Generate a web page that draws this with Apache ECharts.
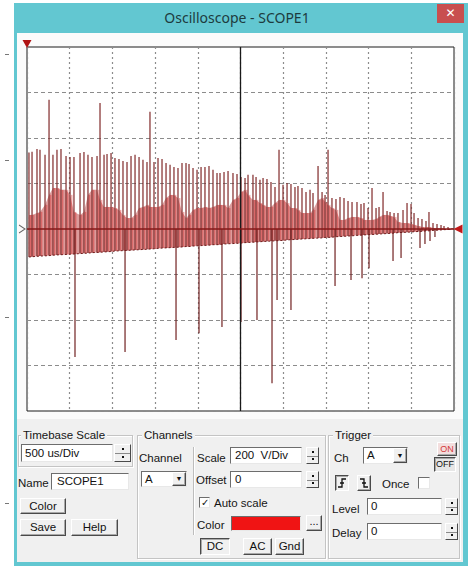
<!DOCTYPE html>
<html><head><meta charset="utf-8">
<script src="https://cdn.jsdelivr.net/npm/echarts@6/dist/echarts.min.js"></script>
<style>
html,body{margin:0;padding:0;width:468px;height:566px;overflow:hidden;background:#fff;font-family:"Liberation Sans",Arial,sans-serif;}
.a{position:absolute;box-sizing:border-box;}
#frame{left:14px;top:3px;width:454px;height:563px;background:#62c7d1;}
#title{left:14px;top:3px;width:446px;height:30px;line-height:30px;text-align:center;font-family:"Noto Sans",sans-serif;font-size:14px;color:#1d3b3e;}
#close{left:437px;top:4px;width:27px;height:19px;background:#c84f4f;color:#fff;font-size:12px;text-align:center;line-height:19px;font-weight:bold;font-family:"DejaVu Sans";}
#panel{left:17px;top:33px;width:446px;height:529px;background:#f0f0f0;}
#plotpanel{left:17px;top:33px;width:446px;height:386px;background:#fbfbfb;}
.lbl{position:absolute;font-size:11.5px;color:#151515;white-space:nowrap;line-height:14px;}
.grp{position:absolute;box-sizing:border-box;border:1px solid #c4c4c4;box-shadow:inset 1px 1px 0 #fff,1px 1px 0 #fff;}
.gl{position:absolute;font-size:11.5px;color:#151515;background:#f0f0f0;padding:0 2px;line-height:14px;white-space:nowrap;}
.ed{position:absolute;box-sizing:border-box;background:#fff;border-top:1px solid #6d6d6d;border-left:1px solid #6d6d6d;border-bottom:1px solid #e8e8e8;border-right:1px solid #e8e8e8;font-size:11.5px;color:#111;padding-left:3px;white-space:nowrap;}
.bt{position:absolute;box-sizing:border-box;background:#f0f0f0;border-top:1px solid #fff;border-left:1px solid #fff;border-right:1px solid #4a4a4a;border-bottom:1px solid #4a4a4a;box-shadow:inset -1px -1px 0 #a8a8a8;text-align:center;font-size:11.5px;color:#111;white-space:nowrap;}
.dn{border-top:1px solid #4a4a4a;border-left:1px solid #4a4a4a;border-right:1px solid #fff;border-bottom:1px solid #fff;box-shadow:inset 1px 1px 0 #a8a8a8;}
.sp{position:absolute;box-sizing:border-box;border-top:1px solid #fff;border-left:1px solid #fff;border-right:1px solid #4a4a4a;border-bottom:1px solid #4a4a4a;background:#f0f0f0;}
.sp::before{content:"";position:absolute;left:0;right:0;top:50%;border-top:1px solid #8a8a8a;}
.dot1,.dot2{position:absolute;left:50%;width:2px;height:2px;margin-left:-1px;background:#111;}
.dot1{top:25%;margin-top:-1px;}
.dot2{top:75%;margin-top:-1px;}
.cb{position:absolute;box-sizing:border-box;background:#fff;border-top:1px solid #6d6d6d;border-left:1px solid #6d6d6d;border-bottom:1px solid #e8e8e8;border-right:1px solid #e8e8e8;}
.tick{position:absolute;left:5px;width:4px;height:1px;background:#777;}
#chart{position:absolute;left:0;top:0;width:468px;height:566px;z-index:3;pointer-events:none;}
</style>
</head>
<body>
<div class="tick" style="top:54px"></div>
<div class="tick" style="top:160px"></div>
<div class="tick" style="top:317px"></div>
<div class="tick" style="top:503px"></div>
<div class="a" id="frame"></div>
<div class="a" id="title">Oscilloscope - SCOPE1</div>
<div class="a" id="close">✕</div>
<div class="a" id="panel"></div>
<div class="a" id="plotpanel"></div>

<!-- Timebase -->
<div class="grp" style="left:18px;top:435px;width:115px;height:32px;"></div>
<div class="gl" style="left:21px;top:428px;">Timebase Scale</div>
<div class="ed" style="left:21px;top:444px;width:92px;height:18px;line-height:16px;">500 us/Div</div>
<div class="sp" style="left:114px;top:444px;width:17px;height:18px;"><div class="dot1"></div><div class="dot2"></div></div>
<div class="lbl" style="left:18px;top:476px;">Name</div>
<div class="ed" style="left:51px;top:473px;width:78px;height:17px;line-height:15px;padding-left:5px;">SCOPE1</div>
<div class="bt" style="left:20px;top:498px;width:46px;height:16px;line-height:14px;">Color</div>
<div class="bt" style="left:20px;top:519px;width:46px;height:17px;line-height:15px;">Save</div>
<div class="bt" style="left:71px;top:519px;width:47px;height:17px;line-height:15px;">Help</div>

<!-- Channels -->
<div class="grp" style="left:137px;top:435px;width:189px;height:124px;"></div>
<div class="gl" style="left:142px;top:428px;">Channels</div>
<div class="lbl" style="left:139px;top:451px;">Channel</div>
<div class="ed" style="left:141px;top:471px;width:46px;height:16px;line-height:14px;">A</div>
<div class="bt" style="left:172px;top:472px;width:14px;height:14px;font-size:7px;line-height:12px;">▼</div>
<div class="a" style="left:193px;top:447px;width:2px;height:88px;border-left:1px solid #bdbdbd;border-right:1px solid #fff;"></div>
<div class="lbl" style="left:197px;top:451px;">Scale</div>
<div class="ed" style="left:230px;top:447px;width:72px;height:17px;line-height:15px;padding-left:4px;">200&nbsp; V/Div</div>
<div class="sp" style="left:306px;top:447px;width:13px;height:17px;"><div class="dot1"></div><div class="dot2"></div></div>
<div class="lbl" style="left:196px;top:473px;">Offset</div>
<div class="ed" style="left:230px;top:471px;width:72px;height:17px;line-height:15px;padding-left:4px;">0</div>
<div class="sp" style="left:306px;top:471px;width:13px;height:17px;"><div class="dot1"></div><div class="dot2"></div></div>
<div class="cb" style="left:199px;top:497px;width:11px;height:11px;font-size:10px;line-height:9px;text-align:center;color:#111;">✓</div>
<div class="lbl" style="left:214px;top:496px;">Auto scale</div>
<div class="lbl" style="left:197px;top:518px;">Color</div>
<div class="ed" style="left:231px;top:516px;width:70px;height:15px;background:#f01414;"></div>
<div class="bt" style="left:306px;top:515px;width:16px;height:16px;line-height:10px;font-size:11px;">...</div>
<div class="bt dn" style="left:200px;top:538px;width:30px;height:17px;line-height:15px;">DC</div>
<div class="bt" style="left:243px;top:538px;width:29px;height:17px;line-height:15px;">AC</div>
<div class="bt" style="left:275px;top:538px;width:29px;height:17px;line-height:15px;">Gnd</div>

<!-- Trigger -->
<div class="grp" style="left:328px;top:435px;width:132px;height:124px;"></div>
<div class="gl" style="left:333px;top:428px;">Trigger</div>
<div class="lbl" style="left:334px;top:451px;">Ch</div>
<div class="ed" style="left:363px;top:447px;width:45px;height:17px;line-height:15px;">A</div>
<div class="bt" style="left:393px;top:448px;width:14px;height:15px;font-size:7px;line-height:13px;">▼</div>
<div class="bt" style="left:437px;top:442px;width:20px;height:14px;line-height:12px;font-size:9px;color:#d33a3a;background:#f3dede;">ON</div>
<div class="bt dn" style="left:434px;top:457px;width:22px;height:15px;line-height:13px;font-size:9px;background:#e6e6e6;">OFF</div>
<div class="bt dn" style="left:335px;top:475px;width:14px;height:16px;"><svg width="12" height="14" style="position:absolute;left:0;top:0"><path d="M2,11 H6 V3 H10 M4,7 H8" stroke="#111" stroke-width="1.3" fill="none"/></svg></div>
<div class="bt" style="left:357px;top:475px;width:14px;height:16px;"><svg width="12" height="14" style="position:absolute;left:0;top:0"><path d="M2,3 H6 V11 H10 M4,7 H8" stroke="#111" stroke-width="1.3" fill="none"/></svg></div>
<div class="lbl" style="left:382px;top:477px;">Once</div>
<div class="cb" style="left:418px;top:477px;width:12px;height:12px;"></div>
<div class="lbl" style="left:332px;top:502px;">Level</div>
<div class="ed" style="left:367px;top:498px;width:75px;height:17px;line-height:15px;">0</div>
<div class="sp" style="left:445px;top:498px;width:13px;height:17px;"><div class="dot1"></div><div class="dot2"></div></div>
<div class="lbl" style="left:332px;top:526px;">Delay</div>
<div class="ed" style="left:367px;top:523px;width:75px;height:17px;line-height:15px;">0</div>
<div class="sp" style="left:445px;top:523px;width:13px;height:17px;"><div class="dot1"></div><div class="dot2"></div></div>

<div id="chart"></div>
<script>
// Time axis: 500 us/Div, 10 divisions; Voltage: 200 V/Div, 8 divisions
const timeTicks = [0,500,1000,1500,2000,2500,3000,3500,4000,4500,5000];
const voltTicks = [-800,-600,-400,-200,0,200,400,600,800];

// Pulse train (time in us, voltages in V)
const pulseTime = [23,59,117,152,211,258,304,351,398,457,
504,550,621,667,714,761,820,855,902,937,
984,1030,1077,1124,1171,1218,1265,1312,1358,1405,
1440,1487,1534,1581,1628,1675,1721,1768,1815,1862,
1897,1944,1991,2038,2084,2131,2178,2225,2260,2307,
2354,2412,2459,2506,2553,2588,2646,2682,2728,2764,
2810,2857,2904,2951,2998,3045,3091,3138,3173,3220,
3267,3314,3349,3408,3455,3490,3525,3571,3618,3665,
3712,3759,3806,3864,3911,3946,3993,4040,4087,4122,
4169,4216,4251,4298,4344,4403,4450,4497,4532,4579,
4625,4672,4707,4754,4801,4848,4883,4930,4977];
const pulseTop = [336,340,352,348,326,568,326,348,352,321,
317,317,334,339,326,317,321,554,326,330,
334,312,308,299,295,321,326,317,304,295,
515,295,312,308,290,282,273,268,290,290,
286,268,260,273,273,277,260,246,246,251,
255,246,242,229,224,238,238,229,216,224,
220,207,185,348,194,202,198,185,189,180,
163,172,158,277,163,150,348,136,132,141,
136,123,119,119,110,114,92,180,92,97,
163,79,75,70,70,84,114,110,70,48,
44,35,75,26,22,18,13,9,4];
const pulseMid = [62,62,70,75,106,150,180,180,172,172,
150,75,62,75,150,172,172,128,97,97,
97,92,84,62,48,48,62,92,97,106,
97,97,97,106,136,150,150,136,75,48,
62,84,92,92,97,92,97,106,106,106,
92,128,136,163,172,150,128,128,114,106,
97,97,114,128,128,114,92,92,84,70,
70,70,84,128,136,119,106,92,84,40,
40,48,53,53,48,40,40,40,44,53,
62,62,57,53,31,26,26,22,18,13,
9,9,9,4,4,4,0,0,0];
const pulseLow = [-123,-122,-120,-119,-118,-117,-115,-114,-113,-112,
-111,-110,-108,-107,-106,-104,-103,-102,-101,-100,
-99,-97,-96,-95,-94,-93,-92,-91,-90,-89,
-88,-87,-85,-84,-83,-82,-81,-80,-79,-77,
-77,-75,-74,-73,-72,-71,-69,-69,-68,-66,
-65,-64,-63,-62,-60,-59,-58,-57,-56,-55,
-54,-53,-52,-51,-50,-48,-47,-46,-45,-44,
-43,-42,-41,-40,-39,-37,-37,-36,-34,-33,
-32,-31,-30,-28,-27,-26,-25,-24,-23,-22,
-21,-20,-19,-18,-16,-15,-14,-13,-12,-11,
-10,-8,-8,-6,-5,-4,-3,-2,-1];

// Negative spikes
const downTime = [562,1148,1745,2014,2283,2506,2693,2869,2928,3091,3607,3794,3923,4005,4286,4380,4602,4660,4719,4777];
const downLevel = [-563,-541,-488,-458,-431,-409,-400,-678,-312,-356,-251,-224,-216,-172,-141,-128,-84,-66,-53,-35];

// Reference markers
const zeroLevel = 0;
const cursorTime = 2500;

const chart = echarts.init(document.getElementById('chart'), null, {renderer:'canvas'});

const pulseData = pulseTime.map((t,i)=>[t, pulseLow[i], pulseTop[i], pulseMid[i]]);
const downData = downTime.map((t,i)=>[t, zeroLevel, downLevel[i]]);

const option = {
  animation:false,
  backgroundColor:'transparent',
  grid:{left:27, top:47, width:427, height:364, show:true, borderColor:'#1a1a1a', borderWidth:1, backgroundColor:'#fff'},
  xAxis:{type:'value', min:timeTicks[0], max:timeTicks[timeTicks.length-1], interval:timeTicks[1]-timeTicks[0],
    axisLine:{show:false}, axisTick:{show:false}, axisLabel:{show:false},
    splitLine:{show:true, lineStyle:{color:'#8c8c8c', width:1.2, type:[2,3]}}},
  yAxis:{type:'value', min:voltTicks[0], max:voltTicks[voltTicks.length-1], interval:voltTicks[1]-voltTicks[0],
    axisLine:{show:false}, axisTick:{show:false}, axisLabel:{show:false},
    splitLine:{show:true, lineStyle:{color:'#8c8c8c', width:1.2, type:[4,3]}}},
  series:[
    { // pink envelope fill
      type:'custom', z:1, clip:true, silent:true,
      data:[0],
      renderItem:function(params, api){
        const pts = [];
        for(let i=0;i<pulseTime.length;i++) pts.push(api.coord([pulseTime[i], pulseMid[i]]));
        for(let i=pulseTime.length-1;i>=0;i--) pts.push(api.coord([pulseTime[i], pulseLow[i]]));
        return {type:'polygon', shape:{points:pts}, style:{fill:'#dc9c9c'}};
      }
    },
    { // pulses
      type:'custom', z:2, clip:true, silent:true,
      data:pulseData,
      encode:{x:0, y:[1,2,3]},
      renderItem:function(params, api){
        const t = api.value(0);
        const p0 = api.coord([t, api.value(1)]);
        const p1 = api.coord([t, api.value(2)]);
        const pm = api.coord([t, api.value(3)]);
        return {type:'group', children:[
          {type:'line', shape:{x1:p0[0], y1:p0[1], x2:p1[0], y2:p1[1]}, style:{stroke:'rgba(125,35,35,0.9)', lineWidth:1.3}},
          {type:'line', shape:{x1:p0[0]+1.8, y1:p0[1], x2:pm[0]+1.8, y2:pm[1]}, style:{stroke:'rgba(215,30,30,0.7)', lineWidth:0.8}}
        ]};
      }
    },
    { // lower envelope
      type:'line', z:3, silent:true, symbol:'none',
      data:pulseTime.map((t,i)=>[t, pulseLow[i]]),
      lineStyle:{color:'#6e1a1a', width:1, type:[2,2]}
    },
    { // negative spikes
      type:'custom', z:3, clip:true, silent:true,
      data:downData,
      encode:{x:0, y:[1,2]},
      renderItem:function(params, api){
        const t = api.value(0);
        const p0 = api.coord([t, api.value(1)]);
        const p1 = api.coord([t, api.value(2)]);
        return {type:'line', shape:{x1:p0[0], y1:p0[1], x2:p1[0], y2:p1[1]}, style:{stroke:'rgba(110,28,28,0.9)', lineWidth:1.3}};
      }
    },
    { // zero line + cursor + markers
      type:'line', z:5, silent:true, symbol:'none',
      data:[[timeTicks[0], zeroLevel],[timeTicks[timeTicks.length-1], zeroLevel]],
      lineStyle:{color:'#861818', width:1.6},
      markLine:{silent:true, symbol:'none', label:{show:false},
        lineStyle:{color:'#1a1a1a', width:1.3, type:'solid'},
        data:[{xAxis:cursorTime}]},
      markPoint:{silent:true, label:{show:false},
        data:[
          {coord:[timeTicks[0], voltTicks[voltTicks.length-1]], symbol:'triangle', symbolRotate:180, symbolSize:[9,8], symbolOffset:[0,-3], itemStyle:{color:'#b01414'}},
          {coord:[timeTicks[timeTicks.length-1], zeroLevel], symbol:'triangle', symbolRotate:90, symbolSize:[9,9], symbolOffset:[4,0], itemStyle:{color:'#c01818'}},
          {coord:[timeTicks[0], zeroLevel], symbol:'path://M0,0 L8,5 L0,10', symbolSize:[6,8], symbolOffset:[-5,0], itemStyle:{color:'none', borderColor:'#666', borderWidth:1}}
        ]}
    }
  ]
};
chart.setOption(option);
</script>
</body></html>
